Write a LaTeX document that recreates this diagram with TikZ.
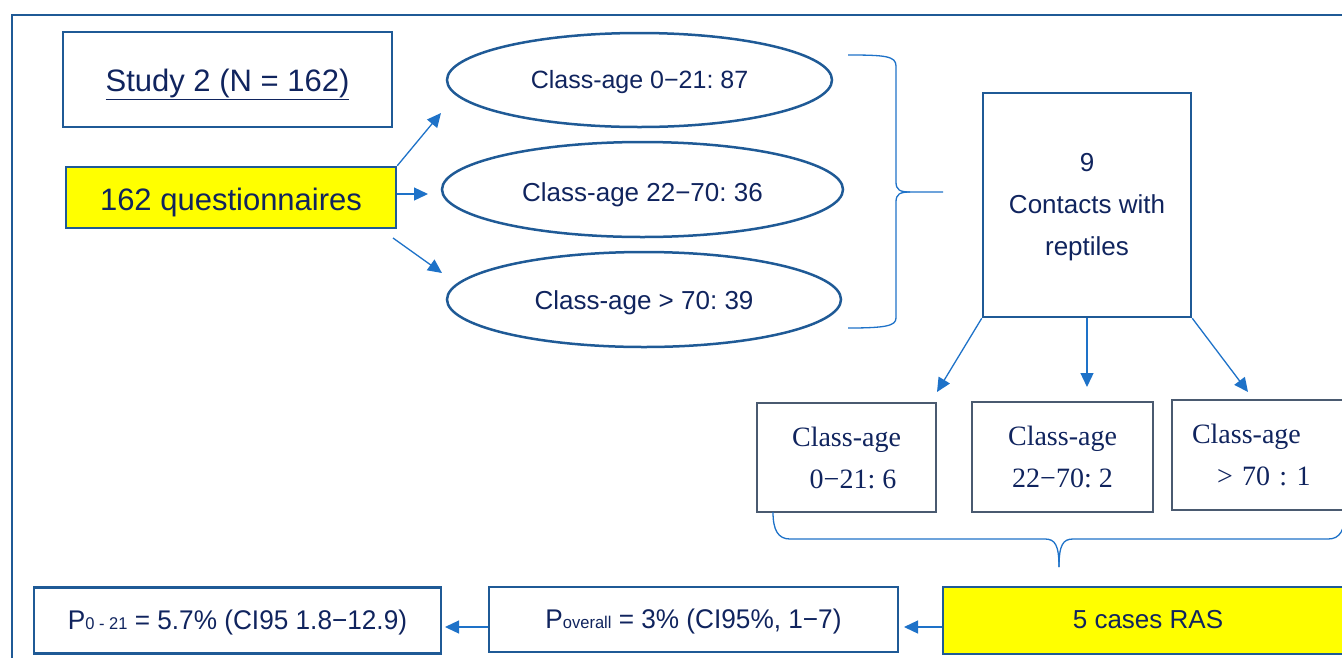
\documentclass[tikz,border=0pt]{standalone}
\usepackage{fontspec}
\setmainfont{Liberation Sans}
\newfontfamily\serifb{Liberation Serif}
\newfontfamily\narrowf[FakeStretch=0.97]{Liberation Sans}
\usetikzlibrary{shapes.geometric,arrows.meta,calc}
\definecolor{navy}{HTML}{10245E}
\definecolor{boxblue}{HTML}{1F5A96}
\definecolor{arrowblue}{HTML}{1E72C8}
\definecolor{greyblue}{HTML}{4A5A70}
\definecolor{hiyellow}{HTML}{FFFF00}
\newcommand\psub[1]{{\fontsize{17}{17}\selectfont #1}}
\frenchspacing
\begin{document}
\frenchspacing
\begin{tikzpicture}[x=1pt,y=-1pt,
  frame/.style={draw=boxblue,line width=2.5pt},
  box/.style={rectangle,draw=boxblue,line width=2.5pt,inner sep=0pt,text=navy},
  ell/.style={ellipse,draw=boxblue,line width=2.5pt,inner sep=0pt,text=navy},
  lbox/.style={rectangle,draw=greyblue,line width=1.5pt,inner sep=0pt,text=navy,align=center,
    font=\serifb\fontsize{28}{42}\selectfont},
  arr/.style={draw=arrowblue,line width=1.3pt,-{Triangle[length=14pt,width=13pt]}},
  brace/.style={draw=arrowblue,line width=1.3pt}]
\useasboundingbox (0,0) rectangle (1342,657);
\draw[frame] (12,15) rectangle (1370,690);

% top-left
\node[box,minimum width=329pt,minimum height=95pt,text height=24.4pt,text depth=0pt,
  font=\fontsize{31}{37}\selectfont]
  (study) at (227.5,79.5) {\underline{Study 2 (N = 162)}};
\node[box,fill=hiyellow,minimum width=330pt,minimum height=61pt,text height=26pt,text depth=0pt,
  font=\fontsize{31}{37}\selectfont]
  (quest) at (231,197.5) {162 questionnaires};

% ellipses
\node[ell,minimum width=385pt,minimum height=94pt,text height=17pt,text depth=0pt,
  font=\fontsize{25}{30}\selectfont]
  (e1) at (639.5,80) {Class-age 0−21: 87};
\node[ell,minimum width=401pt,minimum height=95pt,text height=23pt,text depth=0pt,
  font=\fontsize{26}{31}\selectfont]
  (e2) at (642.5,189.5) {Class-age 22−70: 36};
\node[ell,minimum width=394pt,minimum height=95pt,text height=19.6pt,text depth=0pt,
  font=\fontsize{26}{31}\selectfont]
  (e3) at (644,299.5) {Class-age > 70: 39};

% contacts
\node[box,minimum width=208pt,minimum height=224pt,align=center,font=\fontsize{26}{42}\selectfont]
  (contacts) at (1087,205) {\rule{0pt}{23pt}9\\Contacts with\\reptiles};

% lower class boxes
\node[lbox,minimum width=179pt,minimum height=109pt] (b1) at (846.5,457.5)
  {Class-age\\\hspace*{13pt}0−21: 6};
\node[lbox,minimum width=181pt,minimum height=110pt] (b2) at (1062.5,457)
  {Class-age\\22−70: 2};
\node[lbox,text width=140pt,inner xsep=20pt,align=left,minimum height=110pt] (b3) at (1262,455)
  {Class-age\\\hspace*{25pt}> 70 : 1};

% bottom row
\node[box,fill=hiyellow,minimum width=410pt,minimum height=67pt,text height=15.6pt,text depth=0pt,
  font=\fontsize{26}{31}\selectfont]
  (cases) at (1148,620.5) {5 cases RAS};
\node[box,minimum width=409pt,minimum height=65pt,text height=18pt,text depth=0pt,
  font=\narrowf\fontsize{27}{32}\selectfont]
  (pover) at (693.5,619.5) {P\psub{overall} = 3\% (CI95\%, 1−7)};
\node[box,minimum width=407pt,minimum height=66pt,text height=18pt,text depth=0pt,
  font=\narrowf\fontsize{27}{32}\selectfont]
  (p021) at (237.5,620.3) {P\psub{0 - 21} = 5.7\% (CI95 1.8−12.9)};

% arrows from questionnaires
\coordinate (t1) at (441,113);
\coordinate (t2) at (428,194);
\coordinate (s3) at (393,238);
\coordinate (t3) at (442,273);
\draw[arr] (quest.north east) -- (t1);
\draw[arr] (quest.east |- t2) -- (t2);
\draw[arr] (s3) -- (t3);

% arrows from contacts
\coordinate (t4) at (937,392);
\coordinate (t5) at (1087,387);
\coordinate (t6) at (1248,392);
\draw[arr] (contacts.south west) -- (t4);
\draw[arr] (contacts.south) -- (t5);
\draw[arr] (contacts.south east) -- (t6);

% bottom arrows
\coordinate (t7) at (904,627);
\coordinate (t8) at (445,627);
\draw[arr] (cases.west |- t7) -- (t7);
\draw[arr] (pover.west |- t8) -- (t8);

% right brace
\draw[brace] (848,55) .. controls (885,55) and (896,56) .. (896,66) -- (896,182)
  .. controls (896,190) and (900,192) .. (910,192) -- (943,192);
\draw[brace] (910,192) .. controls (900,192) and (896,194) .. (896,202) -- (896,318)
  .. controls (896,326) and (885,328) .. (848,328);

% bottom brace
\draw[brace] (773,512) .. controls (773,530) and (778,539) .. (790,539) -- (1045,539)
  .. controls (1055,539) and (1059,545) .. (1059,567);
\draw[brace] (1059,567) .. controls (1059,545) and (1063,539) .. (1073,539) -- (1328,539)
  .. controls (1340,539) and (1345,530) .. (1345,512);
\end{tikzpicture}
\end{document}
